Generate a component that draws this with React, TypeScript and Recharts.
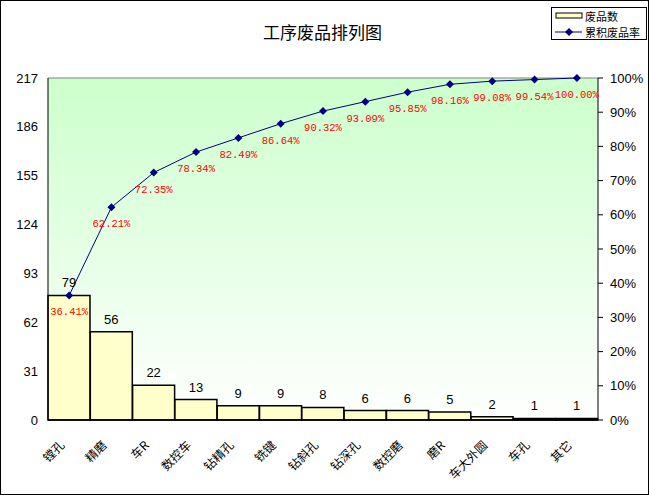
import React from "react";
import {
  ComposedChart,
  Bar,
  Line,
  XAxis,
  YAxis,
  LabelList,
  CartesianGrid,
  ReferenceLine,
  Legend,
} from "recharts";

const processes = [
  "镗孔",
  "精磨",
  "车R",
  "数控车",
  "钻精孔",
  "铣键",
  "钻斜孔",
  "钻深孔",
  "数控磨",
  "磨R",
  "车大外圆",
  "车孔",
  "其它",
];
const scrapCounts = [79, 56, 22, 13, 9, 9, 8, 6, 6, 5, 2, 1, 1];
const cumulativeRates = [
  36.41, 62.21, 72.35, 78.34, 82.49, 86.64, 90.32, 93.09, 95.85, 98.16, 99.08,
  99.54, 100.0,
];
const countTicks = [0, 31, 62, 93, 124, 155, 186, 217];
const rateTicks = [0, 10, 20, 30, 40, 50, 60, 70, 80, 90, 100];

const data = processes.map((name, i) => ({
  name,
  count: scrapCounts[i],
  rate: cumulativeRates[i],
}));

const CJK = "'Noto Sans CJK SC', sans-serif";
const NAVY = "#000080";

const Diamond = ({ cx, cy }: any) => {
  if (cx == null || cy == null) return null;
  const r = 4;
  return (
    <path
      d={`M${cx},${cy - r}L${cx + r},${cy}L${cx},${cy + r}L${cx - r},${cy}Z`}
      fill={NAVY}
    />
  );
};

const XTick = ({ x, y, payload }: any) => {
  const tx = x - 4;
  const ty = y + 18;
  return (
    <text
      x={tx}
      y={ty}
      transform={`rotate(-45 ${tx} ${ty})`}
      textAnchor="end"
      fontSize={12}
      fontFamily={CJK}
      fill="#000"
    >
      {payload.value}
    </text>
  );
};

const RateLabel = ({ x, y, value }: any) => (
  <text
    x={x}
    y={y + 17}
    textAnchor="middle"
    dominantBaseline="central"
    fill="#FF0000"
    fontSize={10.5}
    fontFamily="'Liberation Mono', monospace"
  >
    {Number(value).toFixed(2)}%
  </text>
);

// legend drawn as a small boxed svg, like the spreadsheet one
const LegendBox = () => (
  <svg width={96} height={33} style={{ display: "block" }}>
    <rect x={0.5} y={0.5} width={95} height={32} fill="#fff" stroke="#000" />
    <rect x={5} y={6} width={26} height={5} fill="#FFFFCC" stroke="#000" />
    <text x={34} y={8.5} fontSize={11} fontFamily={CJK} dominantBaseline="central">
      废品数
    </text>
    <line x1={4} y1={25} x2={31} y2={25} stroke={NAVY} />
    <Diamond cx={18} cy={25} />
    <text x={34} y={25} fontSize={11} fontFamily={CJK} dominantBaseline="central">
      累积废品率
    </text>
  </svg>
);

export default function App() {
  return (
    <div
      style={{
        position: "absolute",
        left: 0,
        top: 0,
        width: 649,
        height: 495,
        background: "#fff",
      }}
    >
      <div
        style={{
          position: "absolute",
          left: 0,
          top: 20,
          width: 645,
          textAlign: "center",
          fontFamily: CJK,
          fontSize: 17,
          lineHeight: "24px",
        }}
      >
        工序废品排列图
      </div>
      <ComposedChart
        width={649}
        height={495}
        data={data}
        margin={{ top: 78, right: 0, left: 0, bottom: 0 }}
        barCategoryGap={0}
      >
        <defs>
          <linearGradient id="plotBg" x1="0" y1="0" x2="0" y2="1">
            <stop offset="0" stopColor="#CCFFCC" />
            <stop offset="1" stopColor="#FFFFFF" />
          </linearGradient>
        </defs>
        <CartesianGrid
          horizontal={false}
          vertical={false}
          fill="url(#plotBg)"
          fillOpacity={1}
        />
        <XAxis
          dataKey="name"
          height={75}
          interval={0}
          tickLine={false}
          axisLine={{ stroke: "#000", strokeWidth: 1.5 }}
          tick={<XTick />}
        />
        <YAxis
          yAxisId="left"
          width={48}
          domain={[0, 217]}
          ticks={countTicks}
          interval={0}
          tickLine={false}
          tickSize={6}
          tickMargin={4}
          axisLine={{ stroke: "#000" }}
          tick={{ fill: "#000", fontSize: 13, fontFamily: "'Liberation Sans', Arial" }}
        />
        <YAxis
          yAxisId="right"
          orientation="right"
          width={51}
          domain={[0, 100]}
          ticks={rateTicks}
          interval={0}
          tickFormatter={(v) => `${v}%`}
          tickSize={5}
          tickMargin={7}
          tickLine={{ stroke: "#000" }}
          axisLine={{ stroke: "#000" }}
          tick={{ fill: "#000", fontSize: 13, fontFamily: "'Liberation Sans', Arial" }}
        />
        <ReferenceLine yAxisId="left" y={217} stroke="#808080" />
        <Bar
          yAxisId="left"
          dataKey="count"
          fill="#FFFFCC"
          stroke="#000"
          strokeWidth={1.5}
          isAnimationActive={false}
        >
          <LabelList
            dataKey="count"
            position="top"
            offset={8}
            style={{
              fill: "#000",
              fontSize: 13,
              fontFamily: "'Liberation Sans', Arial",
            }}
          />
        </Bar>
        <Line
          yAxisId="right"
          dataKey="rate"
          stroke={NAVY}
          strokeWidth={1}
          dot={<Diamond />}
          activeDot={false}
          isAnimationActive={false}
        >
          <LabelList dataKey="rate" content={<RateLabel />} />
        </Line>
        <Legend
          layout="vertical"
          align="center"
          verticalAlign="middle"
          content={<LegendBox />}
          wrapperStyle={{ top: 7, left: 551, width: 96, height: 33, lineHeight: 0 }}
        />
      </ComposedChart>
      <div
        style={{
          position: "absolute",
          inset: 0,
          border: "1px solid #000",
          pointerEvents: "none",
        }}
      />
    </div>
  );
}
